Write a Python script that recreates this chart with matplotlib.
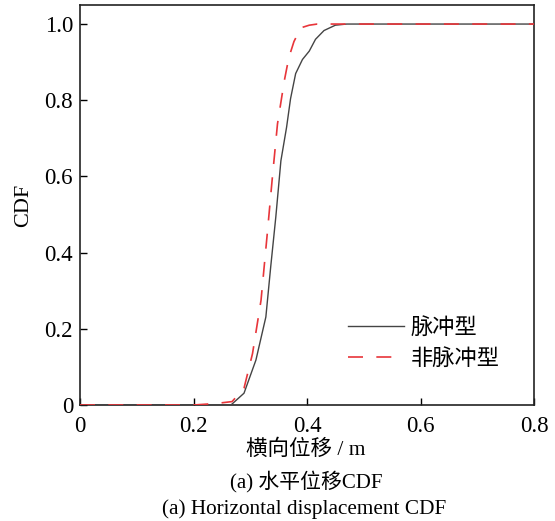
import matplotlib
matplotlib.use("Agg")
import matplotlib.pyplot as plt
import numpy as np

plt.rcParams['font.family'] = ['Liberation Serif', 'Noto Sans CJK SC']
plt.rcParams['mathtext.fontset'] = 'stix'

# Pulse-type (solid) CDF
x_pulse = [0.0, 0.20, 0.240, 0.266, 0.289, 0.310, 0.3275, 0.336, 0.345, 0.354,
           0.364, 0.371, 0.380, 0.392, 0.404, 0.415, 0.430, 0.450, 0.47, 0.8]
y_pulse = [0.0, 0.0, 0.0, 0.0, 0.031, 0.118, 0.231, 0.362, 0.493, 0.641,
           0.729, 0.804, 0.870, 0.907, 0.929, 0.960, 0.983, 0.997, 1.0, 1.0]

# Non-pulse-type (dashed) CDF
x_nonpulse = [0.0, 0.20, 0.240, 0.268, 0.289, 0.304, 0.319, 0.330, 0.339, 0.348,
              0.360, 0.368, 0.377, 0.389, 0.404, 0.418, 0.8]
y_nonpulse = [0.0, 0.0, 0.004, 0.009, 0.044, 0.135, 0.275, 0.450, 0.598, 0.738,
              0.851, 0.912, 0.954, 0.990, 0.997, 1.0, 1.0]

labels = ['脉冲型', '非脉冲型']
xticks = [0, 0.2, 0.4, 0.6, 0.8]
xticklabels = ['0', '0.2', '0.4', '0.6', '0.8']
yticks = [0, 0.2, 0.4, 0.6, 0.8, 1.0]
yticklabels = ['0', '0.2', '0.4', '0.6', '0.8', '1.0']

fig = plt.figure(figsize=(5.55, 5.21), dpi=100)
ax = fig.add_axes([80/555, 1-405/521, (534-80)/555, (405-5)/521])

ax.plot(x_pulse, y_pulse, color='#444444', lw=1.0, label=labels[0], zorder=3)
ax.plot(x_nonpulse, y_nonpulse, color='#e8353a', lw=1.2, dashes=(9, 8),
        label=labels[1], zorder=3.5)

ax.set_xlim(0, 0.8)
ax.set_ylim(0, 1.05)
ax.set_xticks(xticks)
ax.set_xticklabels(xticklabels)
ax.set_yticks(yticks)
ax.set_yticklabels(yticklabels)
ax.tick_params(direction='in', length=5, width=1, labelsize=16.5, pad=5)
ax.tick_params(axis='x', pad=8)
for s in ax.spines.values():
    s.set_linewidth(1.2)
    s.set_color('#222222')
    s.set_zorder(2.5)

ax.set_ylabel('CDF', fontsize=16, labelpad=8)

leg = ax.legend(loc='center left', bbox_to_anchor=((348-80)/454, (405-344)/400),
                frameon=False, borderaxespad=0, borderpad=0,
                fontsize=16, handlelength=2.5, handletextpad=0.3, labelspacing=0.45)

fig.text(306/555, 1-450/521, '横向位移 / m', ha='center', va='center', fontsize=15.5)
fig.text(306/555, 1-482/521, '(a) 水平位移CDF', ha='center', va='center', fontsize=15)
fig.text(304/555, 1-509/521, '(a) Horizontal displacement CDF', ha='center', va='center', fontsize=15.3)

fig.savefig('out.png', dpi=100)
